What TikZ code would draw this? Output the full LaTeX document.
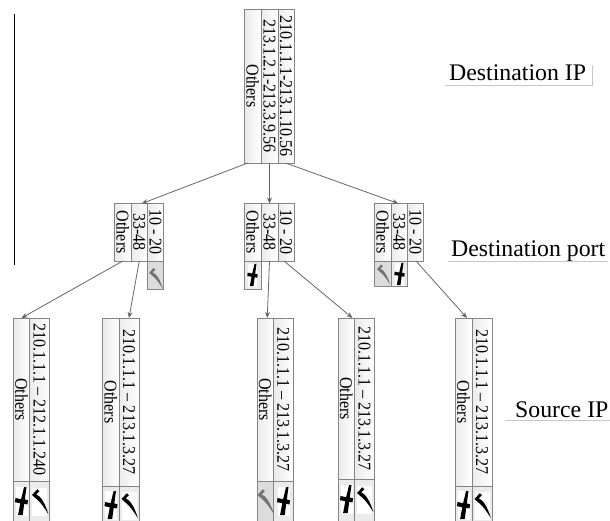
\documentclass[tikz,border=0pt]{standalone}
\usepackage{fontspec}
\setmainfont{Liberation Serif}
\usetikzlibrary{arrows.meta,calc}
\definecolor{cellline}{HTML}{858585}
\definecolor{edgeline}{HTML}{666666}
\definecolor{markgrey}{HTML}{DCDCDC}
\tikzset{
  cellbox/.style={draw=cellline,line width=0.9pt,inner sep=0pt,outer sep=0pt,left color=black!8,right color=white,font=\fontsize{18}{18}\selectfont,text=black},
  markbox/.style={draw=cellline,line width=0.9pt,inner sep=0pt,outer sep=0pt,fill=black!8},
  greybox/.style={draw=cellline,line width=0.9pt,inner sep=0pt,outer sep=0pt,fill=markgrey},
  link/.style={draw=edgeline,line width=0.8pt,-{Stealth[length=6pt,width=5pt]},shorten >=0pt},
  rowlabel/.style={font=\fontsize{23.8}{24}\selectfont,text=black,inner sep=0pt},
  ruleline/.style={draw=black!22,line width=0.8pt}
}
\newcommand{\cell}[6]{%
  \pgfmathsetmacro{\cx}{(#2+#3)/2}\pgfmathsetmacro{\cy}{(#4+#5)/2}%
  \node[cellbox,minimum width={(#3-#2)*1pt},minimum height={(#5-#4)*1pt}] (#1) at (\cx,\cy) {\rotatebox{-90}{\scalebox{0.89}[1]{#6}}};}
\newcommand{\mcell}[6]{%
  \pgfmathsetmacro{\cx}{(#3+#4)/2}\pgfmathsetmacro{\cy}{(#5+#6)/2}%
  \node[#1,minimum width={(#4-#3)*1pt},minimum height={(#6-#5)*1pt}] (#2) at (\cx,\cy) {};}
% check mark and cross, drawn about a centre
\newcommand{\chkshape}{(-7.5,-6) -- (-2.2,-11.8) -- (0,-9.8) -- (-3.2,-6.6) -- (0,-4.5) .. controls (3.5,-1) and (6.5,5) .. (8.8,13) .. controls (5,7) and (1,1) .. (-3,-2) -- cycle}
\newcommand{\chk}[4]{\begin{scope}[shift={(#1,#2)},scale=#3]
  \fill[#4] \chkshape;
\end{scope}}
\newcommand{\chkw}[3]{\begin{scope}[shift={(#1,#2)},scale=#3]
  \fill[white] (-7.5,-13) rectangle (7.5,15);
  \fill[black] \chkshape;
\end{scope}}
\newcommand{\crs}[3]{\begin{scope}[shift={(#1,#2)},scale=#3]
  \fill[white] (-6,-14) rectangle (6,15);
  \fill[black] (2.6,-14) -- (5,-14) -- (1.2,14) -- (-3.4,14) -- (-1.2,2.2) -- (-6.5,1.2) -- (-6,-3) -- (-0.4,-1.8) -- cycle;
  \fill[black] (0,-2.4) -- (6.5,-0.8) -- (6,3.4) -- (-0.5,2.4) -- cycle;
\end{scope}}
\begin{document}
\begin{tikzpicture}[x=1pt,y=-1pt]
\useasboundingbox (0,0) rectangle (610,520);
\clip (0,0) rectangle (610,520);
\draw[black,line width=1pt] (14,14) -- (14,265);
% root
\cell{r1}{244.5}{261}{9}{163}{Others}
\cell{r2}{261}{278}{9}{163}{213.1.2.1-213.3.9.56}
\cell{r3}{278}{294}{9}{163}{210.1.1.1-213.1.10.56}
% second level A
\cell{a1}{114.5}{131}{203.5}{261}{Others}
\cell{a2}{131}{147.5}{203.5}{261}{33-48}
\cell{a3}{147.5}{163.5}{203.5}{261}{10 - 20}
\mcell{greybox}{am}{147.5}{163.5}{261}{289}
\chk{155.5}{278}{0.85}{black!55}
% second level B
\cell{b1}{244.5}{261}{203.5}{261}{Others}
\cell{b2}{261}{278}{203.5}{261}{33-48}
\cell{b3}{278}{294}{203.5}{261}{10 - 20}
\mcell{markbox}{bm}{244.5}{261}{261}{289}
\crs{252.5}{275}{0.8}
% second level C
\cell{c1}{374.5}{391}{203.5}{261}{Others}
\cell{c2}{391}{407.5}{203.5}{261}{33-48}
\cell{c3}{407.5}{423.5}{203.5}{261}{10 - 20}
\mcell{greybox}{cm1}{374.5}{391}{261}{286.5}
\mcell{markbox}{cm2}{391}{407.5}{261}{286.5}
\chk{383}{274}{0.8}{black!55}
\crs{399.5}{274}{0.8}
% third level
\cell{p1}{13.5}{29.5}{318}{481}{Others}
\cell{p2}{29.5}{49.5}{318}{481}{210.1.1.1 – 212.1.1.240}
\mcell{markbox}{pm1}{13.5}{29.5}{481}{526}
\mcell{markbox}{pm2}{29.5}{49.5}{481}{526}
\crs{21.5}{501}{1}
\chkw{39.5}{501}{1}
\cell{q1}{102.5}{119}{318}{486}{Others}
\cell{q2}{119}{139}{318}{486}{210.1.1.1 – 213.1.3.27}
\mcell{markbox}{qm1}{102.5}{119}{486}{526}
\mcell{markbox}{qm2}{119}{139}{486}{526}
\crs{111}{505}{1}
\chkw{129}{505}{1}
\cell{s1}{257}{273.5}{318}{481}{Others}
\cell{s2}{273.5}{293}{318}{481}{210.1.1.1 – 213.1.3.27}
\mcell{greybox}{sm1}{257}{273.5}{481}{526}
\mcell{markbox}{sm2}{273.5}{293}{481}{526}
\chk{265}{501}{1}{black!55}
\crs{283.5}{501}{1}
\cell{t1}{338}{354.5}{318}{479}{Others}
\cell{t2}{354.5}{374.5}{318}{479}{210.1.1.1 – 213.1.3.27}
\mcell{markbox}{tm1}{338}{354.5}{479}{526}
\mcell{markbox}{tm2}{354.5}{374.5}{479}{526}
\crs{346.5}{499}{1}
\chkw{364.5}{499}{1}
\cell{u1}{455}{472}{318}{486}{Others}
\cell{u2}{472}{492}{318}{486}{210.1.1.1 – 213.1.3.27}
\mcell{markbox}{um1}{455}{472}{486}{526}
\mcell{markbox}{um2}{472}{492}{486}{526}
\crs{463.5}{505}{1}
\chkw{482}{505}{1}
% connectors
\draw[link] ($(r1.south)+(-5,0)$) -- ($(a2.north)+(2.5,0)$);
\draw[link] ($(r2.south)+(0,0)$) -- (b2.north);
\draw[link] ($(r3.south)+(-0.5,0)$) -- ($(c2.north)+(-1,0)$);
\draw[link] ($(a1.south)+(0,0)$) -- ($(p1.north)+(0,0)$);
\draw[link] ($(a2.south)+(0,0)$) -- ($(q2.north)+(0,0)$);
\draw[link] (b2.south) -- ($(s1.north)+(2,0)$);
\draw[link] ($(b3.south)+(-2,0)$) -- ($(t2.north)+(-12,0)$);
\draw[link] ($(c3.south)+(0.5,0)$) -- ($(u1.north)+(3.5,0)$);
% row labels
\node[rowlabel,anchor=base west] (l1) at (449,80) {Destination IP};
\node[rowlabel,anchor=base west] (l2) at (451,256) {Destination port};
\node[rowlabel,anchor=base west] (l3) at (515,417) {Source IP};
\draw[ruleline] ($(l1.base west)+(-4,5)$) -| ($(l1.base east)+(6.5,-15)$);
\draw[ruleline] ($(l2.base west)+(-3,5)$) -- ($(l2.base east)+(3,5)$);
\draw[ruleline] ($(l3.base west)+(-10,3)$) -- ($(l3.base east)+(2,3)$);
\end{tikzpicture}
\end{document}
